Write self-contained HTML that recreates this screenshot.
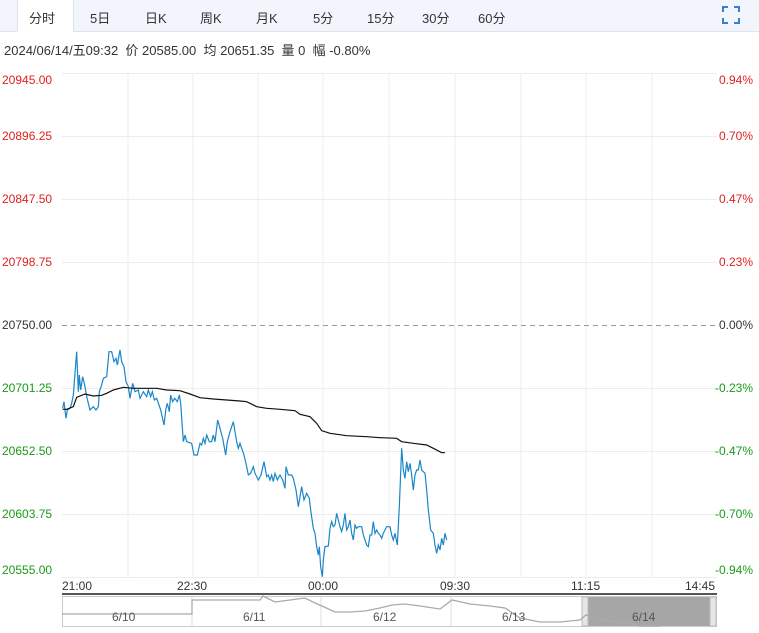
<!DOCTYPE html>
<html><head><meta charset="utf-8"><style>
body{margin:0;width:759px;height:633px;background:#fff;font-family:"Liberation Sans","Noto Sans CJK SC",sans-serif;overflow:hidden;position:relative}
.bar{position:absolute;left:0;top:0;width:759px;height:31px;background:#f2f6fc;border-bottom:1px solid #dde4ee}
.tab{position:absolute;top:8px;font-size:13px;color:#333}
.act{position:absolute;left:17px;top:0;width:55px;height:32px;background:#fff;border-left:1px solid #dde4ee;border-right:1px solid #dde4ee}
.info{position:absolute;left:4px;top:40px;font-size:13px;color:#333}
.l{position:absolute;left:2px;font-size:12px}
.r{position:absolute;right:6px;font-size:12px}
.t{position:absolute;top:579px;font-size:12px;color:#333}
</style></head><body>
<div class="bar"></div><div class="act"></div>
<span class="tab" style="left:29px">分时</span>
<span class="tab" style="left:90px">5日</span>
<span class="tab" style="left:145px">日K</span>
<span class="tab" style="left:200px">周K</span>
<span class="tab" style="left:256px">月K</span>
<span class="tab" style="left:313px">5分</span>
<span class="tab" style="left:367px">15分</span>
<span class="tab" style="left:422px">30分</span>
<span class="tab" style="left:478px">60分</span>
<svg style="position:absolute;left:721px;top:5px" width="20" height="20"><path d="M2 7V2H7M13 2H18V7M18 13V18H13M7 18H2V13" fill="none" stroke="#3a80d0" stroke-width="2"/></svg>
<div class="info">2024/06/14/五09:32&nbsp; 价 20585.00&nbsp; 均 20651.35&nbsp; 量 0&nbsp; 幅 -0.80%</div>
<svg style="position:absolute;left:0;top:0" width="759" height="633">
<g stroke="#ececec" stroke-width="1">
<line x1="62" y1="73.5" x2="717" y2="73.5"/><line x1="62" y1="136.5" x2="717" y2="136.5"/><line x1="62" y1="199.5" x2="717" y2="199.5"/><line x1="62" y1="262.5" x2="717" y2="262.5"/><line x1="62" y1="388.5" x2="717" y2="388.5"/><line x1="62" y1="451.5" x2="717" y2="451.5"/><line x1="62" y1="514.5" x2="717" y2="514.5"/><line x1="62" y1="577.5" x2="717" y2="577.5"/>
<line x1="128" y1="73" x2="128" y2="578"/><line x1="193" y1="73" x2="193" y2="578"/><line x1="258" y1="73" x2="258" y2="578"/><line x1="323" y1="73" x2="323" y2="578"/><line x1="389" y1="73" x2="389" y2="578"/><line x1="455" y1="73" x2="455" y2="578"/><line x1="521" y1="73" x2="521" y2="578"/><line x1="586" y1="73" x2="586" y2="578"/><line x1="652" y1="73" x2="652" y2="578"/>
</g>
<line x1="62" y1="325.5" x2="717" y2="325.5" stroke="#999" stroke-dasharray="5,4"/>
<g transform="translate(40,320) scale(0.33333)">
<polyline fill="none" stroke="#1a86c8" stroke-width="1.2" vector-effect="non-scaling-stroke" points="68,265 72,245 78,295 82,270 90,265 95,250 100,225 110,95 115,215 118,165 122,210 128,170 135,200 140,230 150,270 160,260 168,270 175,260 178,215 185,195 190,175 200,170 207,95 215,95 222,125 228,115 232,135 240,90 245,125 252,140 258,185 265,200 270,235 278,190 285,215 295,210 300,235 310,215 320,230 325,210 332,230 337,215 343,240 350,235 357,255 362,270 372,315 378,265 382,250 388,275 392,225 398,245 404,235 412,245 418,225 422,250 430,365 435,345 440,365 455,370 462,405 472,405 480,370 485,375 490,355 495,370 500,345 508,365 515,365 520,345 525,365 533,300 540,325 548,355 557,405 562,365 570,335 580,305 590,365 595,385 600,370 605,385 612,405 620,440 625,465 632,460 640,440 645,460 655,480 663,465 672,425 680,470 685,465 690,480 695,465 700,485 705,460 712,480 720,465 728,480 735,505 738,440 745,465 755,465 760,475 768,510 775,560 785,500 792,540 800,520 808,535 812,570 820,625 825,640 830,680 835,705 838,680 842,740 847,770 850,720 855,680 865,678 870,625 875,605 880,620 885,615 890,580 895,600 900,620 905,635 910,615 915,580 920,630 925,620 930,600 935,640 940,660 945,615 950,625 955,620 965,620 970,645 980,675 985,680 990,645 995,645 1000,605 1005,640 1010,630 1015,640 1020,645 1025,655 1030,640 1040,620 1050,620 1055,645 1060,660 1065,640 1072,675 1078,560 1085,385 1090,450 1095,475 1100,425 1105,455 1110,430 1115,465 1120,510 1125,465 1130,450 1135,450 1140,420 1145,450 1155,460 1160,510 1165,570 1172,630 1180,640 1185,675 1190,700 1195,675 1200,690 1205,655 1210,675 1215,640 1220,660"/>
<polyline fill="none" stroke="#111" stroke-width="1.2" vector-effect="non-scaling-stroke" points="68,268 80,268 100,260 110,232 135,222 160,228 185,226 200,220 220,210 250,202 280,205 350,205 380,210 420,212 450,222 480,233 520,237 600,243 620,245 650,260 680,265 720,268 765,272 780,283 810,290 830,310 845,332 870,340 920,347 980,350 1020,353 1070,355 1085,365 1120,370 1160,375 1180,385 1205,398 1215,398"/>
</g>
<line x1="62" y1="594" x2="717" y2="594" stroke="#555" stroke-width="2"/>
<rect x="62.5" y="596.5" width="654" height="30" fill="#fff" stroke="#ccc"/>
<rect x="586" y="597" width="124" height="29" fill="#a6a6a6"/>
<rect x="582" y="597" width="6" height="29" fill="#e6e6e6" stroke="#bbb"/>
<rect x="710" y="597" width="6" height="29" fill="#e6e6e6" stroke="#bbb"/>
<g stroke="#ddd"><line x1="192" y1="597" x2="192" y2="626"/><line x1="321" y1="597" x2="321" y2="626"/><line x1="451" y1="597" x2="451" y2="626"/></g>
<polyline fill="none" stroke="#aaa" stroke-width="1.3" points="62,614 192,614 192,600 260,600 263,596 275,602 290,600 305,598 315,603 322,606 335,612 350,612 365,611 380,608 392,605 405,604 420,606 440,609 452,600 470,604 490,606 505,608 520,618 540,622 560,622 580,620 586,615 600,620 620,622 640,626 660,626"/>
<g font-size="12" fill="#555" font-family="Liberation Sans"><text x="112" y="621">6/10</text><text x="243" y="621">6/11</text><text x="373" y="621">6/12</text><text x="502" y="621">6/13</text><text x="632" y="621">6/14</text></g>
</svg>
<span class="l" style="top:73px;color:#e02020">20945.00</span><span class="r" style="top:73px;color:#e02020">0.94%</span>
<span class="l" style="top:129px;color:#e02020">20896.25</span><span class="r" style="top:129px;color:#e02020">0.70%</span>
<span class="l" style="top:192px;color:#e02020">20847.50</span><span class="r" style="top:192px;color:#e02020">0.47%</span>
<span class="l" style="top:255px;color:#e02020">20798.75</span><span class="r" style="top:255px;color:#e02020">0.23%</span>
<span class="l" style="top:318px;color:#333">20750.00</span><span class="r" style="top:318px;color:#333">0.00%</span>
<span class="l" style="top:381px;color:#1a9a1a">20701.25</span><span class="r" style="top:381px;color:#1a9a1a">-0.23%</span>
<span class="l" style="top:444px;color:#1a9a1a">20652.50</span><span class="r" style="top:444px;color:#1a9a1a">-0.47%</span>
<span class="l" style="top:507px;color:#1a9a1a">20603.75</span><span class="r" style="top:507px;color:#1a9a1a">-0.70%</span>
<span class="l" style="top:563px;color:#1a9a1a">20555.00</span><span class="r" style="top:563px;color:#1a9a1a">-0.94%</span>
<span class="t" style="left:62px">21:00</span><span class="t" style="left:177px">22:30</span><span class="t" style="left:308px">00:00</span><span class="t" style="left:440px">09:30</span><span class="t" style="left:571px">11:15</span><span class="t" style="left:685px">14:45</span>
</body></html>
